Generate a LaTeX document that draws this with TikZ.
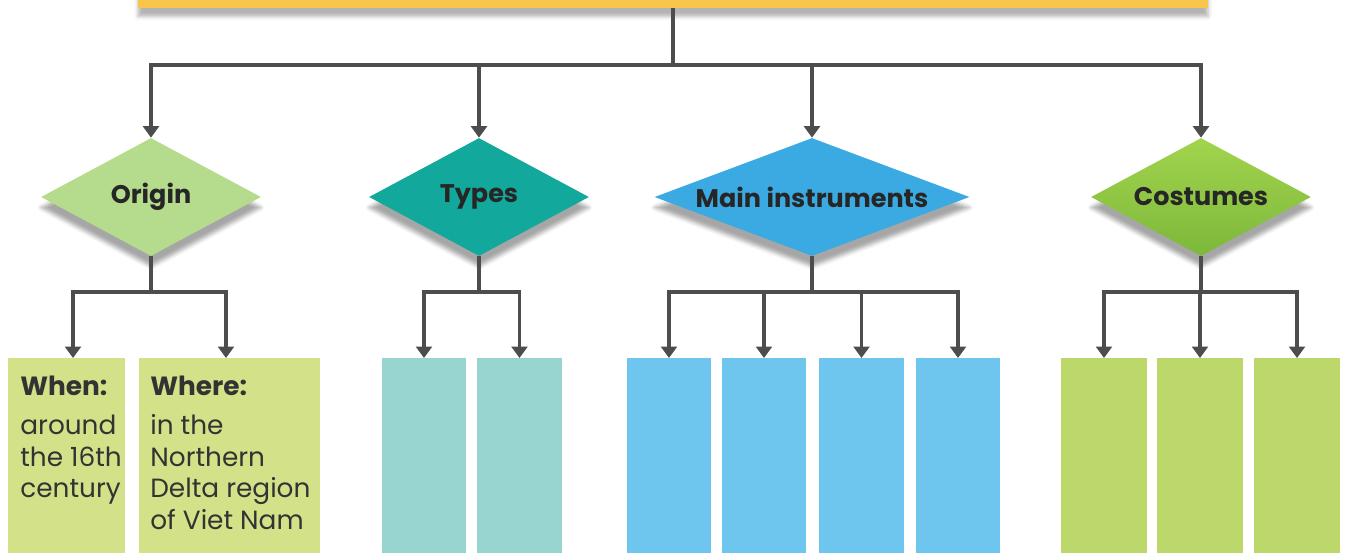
\documentclass[tikz,border=0pt]{standalone}
\usepackage{fontspec}
\setmainfont{Poppins}
\usetikzlibrary{arrows.meta}
\usetikzlibrary{shapes.geometric}
\usetikzlibrary{shadows.blur}
\definecolor{bannerfill}{HTML}{F8C64A}
\definecolor{originfill}{HTML}{B4DC8C}
\definecolor{typesfill}{HTML}{12A89B}
\definecolor{instrfill}{HTML}{3BAAE2}
\definecolor{costtop}{HTML}{A2D44E}
\definecolor{costbot}{HTML}{7DB83A}
\definecolor{originbox}{HTML}{D3E189}
\definecolor{typesbox}{HTML}{98D5D1}
\definecolor{instrbox}{HTML}{6EC6EE}
\definecolor{costbox}{HTML}{BCD86B}
\definecolor{linegray}{HTML}{4D4D4D}
\tikzset{
    topic/.style = {
        diamond,
        aspect=1.86,
        inner sep=0pt,
        minimum width=4.4cm,
        minimum height=2.36cm,
        font=\fontsize{14.5}{16}\selectfont\bfseries,
        text=black!85,
        blur shadow={shadow xshift=0pt, shadow yshift=-6pt, shadow opacity=35},
    },
    column/.style = {
        rectangle,
        inner sep=0pt,
        minimum width=1.68cm,
        minimum height=3.9cm,
        anchor=north,
    },
    words/.style = {
        anchor=north west,
        inner sep=0pt,
        align=left,
        text=black!80,
        font=\fontsize{15}{18}\selectfont,
    },
    connect/.style = {
        line width=2.2pt,
        linegray,
    },
    pointer/.style = {
        connect,
        -{Triangle[width=9pt,length=6.5pt]},
    }
}

\begin{document}
\begin{tikzpicture}
  \clip (0,0) rectangle (26.96,-11.08);

  % Title bar
  \node[fill=bannerfill, minimum width=21.4cm, minimum height=1cm, anchor=south,
        blur shadow={shadow xshift=0pt, shadow yshift=-5pt, shadow opacity=30}] (banner) at (13.46,-0.16) {};

  \coordinate (hub) at (13.46,-1.3);

  % Topics
  \node[topic, fill=originfill] (origin) at (3.02,-3.94) {Origin};
  \node[topic, fill=typesfill] (types) at (9.58,-3.94) {Types};
  \node[topic, fill=instrfill, aspect=2.67, minimum width=6.3cm] (instr) at (16.24,-3.94) {Main instruments};
  \node[topic, top color=costtop, bottom color=costbot] (costumes) at (24.02,-3.94) {Costumes};

  \draw[connect] (banner.south) -- (hub);
  \draw[pointer] (hub) -| (origin.north);
  \draw[pointer] (hub) -| (types.north);
  \draw[pointer] (hub) -| (instr.north);
  \draw[pointer] (hub) -| (costumes.north);

  % Columns
  \node[column, fill=originbox, minimum width=2.34cm] (when) at (1.33,-7.16) {};
  \node[column, fill=originbox, minimum width=3.62cm] (where) at (4.59,-7.16) {};
  \node[column, fill=typesbox] (typeA) at (8.48,-7.16) {};
  \node[column, fill=typesbox, minimum width=1.7cm] (typeB) at (10.39,-7.16) {};
  \node[column, fill=instrbox] (instrA) at (13.38,-7.16) {};
  \node[column, fill=instrbox] (instrB) at (15.28,-7.16) {};
  \node[column, fill=instrbox, minimum width=1.7cm] (instrC) at (17.23,-7.16) {};
  \node[column, fill=instrbox] (instrD) at (19.16,-7.16) {};
  \node[column, fill=costbox, minimum width=1.72cm] (costA) at (22.08,-7.16) {};
  \node[column, fill=costbox, minimum width=1.72cm] (costB) at (24.0,-7.16) {};
  \node[column, fill=costbox, minimum width=1.72cm] (costC) at (25.94,-7.16) {};

  \coordinate (originsplit) at (3.02,-5.84);
  \coordinate (typessplit) at (9.58,-5.84);
  \coordinate (instrsplit) at (16.24,-5.84);
  \coordinate (costsplit) at (24.02,-5.84);

  \draw[connect] (origin.south) -- (originsplit);
  \draw[pointer] (originsplit) -| ([xshift=0.13cm]when.north);
  \draw[pointer] (originsplit) -| ([xshift=-0.07cm]where.north);

  \draw[connect] (types.south) -- (typessplit);
  \draw[pointer] (typessplit) -| (typeA.north);
  \draw[pointer] (typessplit) -| (typeB.north);

  \draw[connect] (instr.south) -- (instrsplit);
  \draw[pointer] (instrsplit) -| (instrA.north);
  \draw[pointer] (instrsplit) -| (instrB.north);
  \draw[pointer] (instrsplit) -| (instrC.north);
  \draw[pointer] (instrsplit) -| (instrD.north);

  \draw[connect] (costumes.south) -- (costsplit);
  \draw[pointer] (costsplit) -| (costA.north);
  \draw[pointer] (costsplit) -| (costB.north);
  \draw[pointer] (costsplit) -| (costC.north);

  % Texts
  \node[words] (whentext) at (0.4,-7.52) {\textbf{When:}\\[4pt] around\\ the 16th\\ century};
  \node[words] (wheretext) at (3.0,-7.52) {\textbf{Where:}\\[4pt] in the\\ Northern\\ Delta region\\ of Viet Nam};

\end{tikzpicture}
\end{document}
